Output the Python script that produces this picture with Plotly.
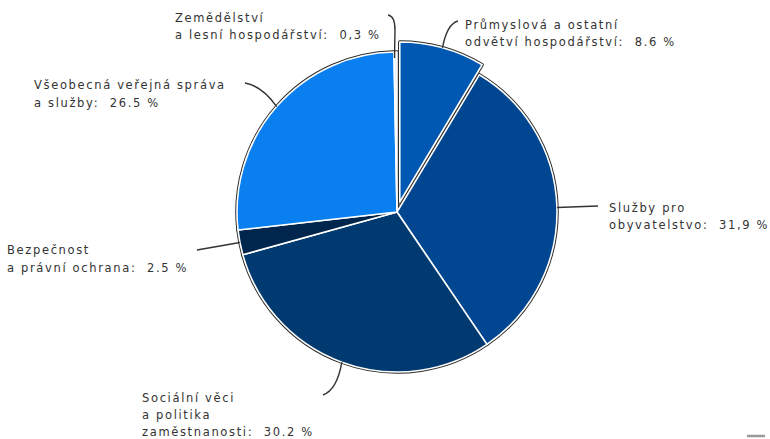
import math
import plotly.graph_objects as go

# data
sectors = [
    "Průmyslová a ostatní odvětví hospodářství",
    "Služby pro obyvatelstvo",
    "Sociální věci a politika zaměstnanosti",
    "Bezpečnost a právní ochrana",
    "Všeobecná veřejná správa a služby",
    "Zemědělství a lesní hospodářství",
]
shares = [8.6, 31.9, 30.2, 2.5, 26.5, 0.3]
share_text = ["8.6", "31,9", "30.2", "2.5", "26.5", "0,3"]
label_lines = [
    ["Průmyslová a ostatní", "odvětví hospodářství:"],
    ["Služby pro", "obyvatelstvo:"],
    ["Sociální věci", "a politika", "zaměstnanosti:"],
    ["Bezpečnost", "a právní ochrana:"],
    ["Všeobecná veřejná správa", "a služby:"],
    ["Zemědělství", "a lesní hospodářství:"],
]
colors = ["#0058b2", "#004690", "#003a70", "#00264d", "#0a7ff0", "#e6eef8"]
pulls = [0.065, 0, 0, 0, 0, 0]

W, H = 770, 439
cx, cy, R = 397, 212, 160
half = R * (1 + max(pulls))
dom_x = [(cx - half) / W, (cx + half) / W]
dom_y = [1 - (cy + half) / H, 1 - (cy - half) / H]

fig = go.Figure()
# dark outline underneath, white borders on top
for lc, lw in [("#2a2a2a", 3.5), ("white", 1.6)]:
    fig.add_trace(go.Pie(
        labels=sectors, values=shares, sort=False, direction="clockwise",
        rotation=0, pull=pulls, textinfo="none", hoverinfo="label+percent",
        marker=dict(colors=colors, line=dict(color=lc, width=lw)),
        domain=dict(x=dom_x, y=dom_y), showlegend=False,
    ))


def px(x):
    return x / W


def py(y):
    return 1 - y / H


# edge points of each slice at its middle angle
total = sum(shares)
edges = []
acc = 0
for v, p in zip(shares, pulls):
    mid = (acc + v / 2) / total * 2 * math.pi
    acc += v
    ox = cx + p * R * math.sin(mid)
    oy = cy - p * R * math.cos(mid)
    edges.append((ox + R * math.sin(mid), oy - R * math.cos(mid)))

# label placement (pixels, top-left of first line) and leader line ends
label_pos = [(463, 25), (607, 208), (140, 398), (5, 250), (32, 85), (173, 18)]
line_gap = [17, 17, 17, 18, 18, 17]
leaders = [
    ("Q", (447, 24), (458, 21)),
    ("L", None, (598, 206)),
    ("Q", (337, 390), (323, 395)),
    ("L", None, (197, 250)),
    ("Q", (262, 86), (245, 83)),
    ("B", (395, 16), (388, 15)),
]

annotations = []
for i, lines in enumerate(label_lines):
    x0, y0 = label_pos[i]
    txt = list(lines)
    txt[-1] = txt[-1] + "\u00a0\u00a0" + share_text[i] + "\u00a0%"
    for k, t in enumerate(txt):
        annotations.append(dict(
            x=px(x0), y=py(y0 + k * line_gap[i]), xref="paper", yref="paper",
            text=f'<span style="letter-spacing:1.65px">{t}</span>',
            showarrow=False, xanchor="left", yanchor="middle",
            font=dict(family="DejaVu Sans", size=11.5, color="#333333"),
        ))

shapes = []
for (ex, ey), (kind, ctrl, end) in zip(edges, leaders):
    if kind == "L":
        path = f"M {px(ex)} {py(ey)} L {px(end[0])} {py(end[1])}"
    elif kind == "Q":
        path = (f"M {px(ex)} {py(ey)} Q {px(ctrl[0])} {py(ctrl[1])} "
                f"{px(end[0])} {py(end[1])}")
    else:
        path = (f"M {px(end[0])} {py(end[1])} Q {px(ctrl[0])} {py(ctrl[1])} "
                f"{px(ctrl[0])} {py(ctrl[1] + 14)} L {px(ex - 1)} {py(ey + 6)}")
    shapes.append(dict(type="path", path=path, xref="paper", yref="paper",
                       line=dict(color="#333333", width=1.4)))

# small grey dash in the bottom right corner
shapes.append(dict(type="line", xref="paper", yref="paper",
                   x0=px(747), x1=px(765), y0=py(436), y1=py(436),
                   line=dict(color="#999999", width=2.5)))

fig.update_layout(
    width=W, height=H,
    margin=dict(l=0, r=0, t=0, b=0),
    paper_bgcolor="white", plot_bgcolor="white",
    annotations=annotations, shapes=shapes,
)

fig.write_html("out.html", config={"displayModeBar": False},
               post_script="document.body.style.margin='0';")
